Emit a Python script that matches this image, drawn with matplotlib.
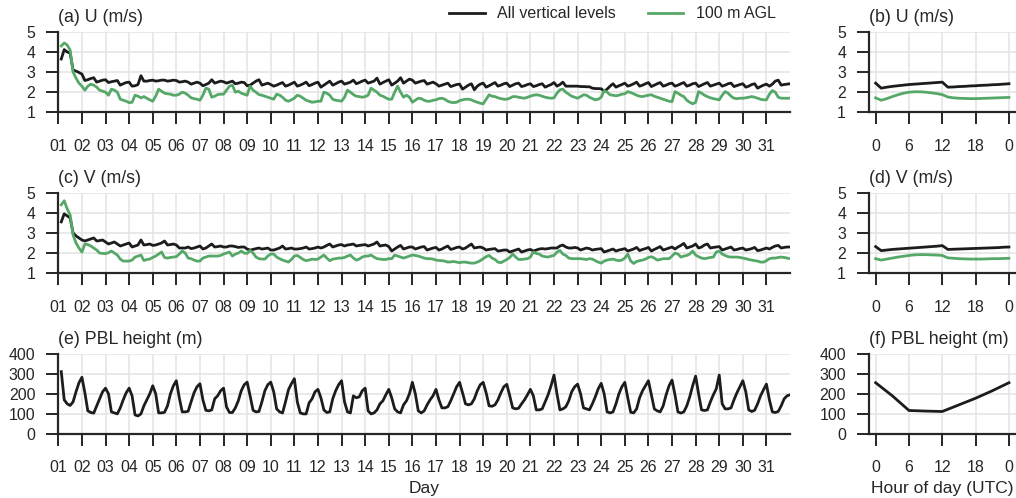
import numpy as np
import matplotlib.pyplot as plt

plt.rcParams['font.family'] = ['Liberation Sans', 'DejaVu Sans']

# 3-hourly samples, 01 03:00 .. 32 00:00
days = 1 + np.arange(1, 249) / 8.0
day_ticks = np.arange(1, 32)
day_labels = ['%02d' % d for d in day_ticks]

hours = np.arange(25)
hours3 = np.arange(0, 25, 3)
hour_ticks = [0, 6, 12, 18, 24]
hour_labels = ['0', '6', '12', '18', '0']

u_all = [
    3.65, 4.12, 4.0, 3.95, 3.1, 3.05, 2.98, 2.9,
    2.58, 2.62, 2.68, 2.72, 2.5, 2.55, 2.6, 2.62,
    2.48, 2.52, 2.55, 2.58, 2.35, 2.42, 2.48, 2.5,
    2.3, 2.32, 2.38, 2.82, 2.55, 2.55, 2.58, 2.6,
    2.55, 2.57, 2.6, 2.6, 2.55, 2.57, 2.6, 2.58,
    2.5, 2.52, 2.55, 2.5, 2.4, 2.45, 2.5, 2.45,
    2.32, 2.38, 2.45, 2.62, 2.45, 2.5, 2.55, 2.52,
    2.45, 2.5, 2.55, 2.42, 2.45, 2.5, 2.48, 2.32,
    2.35, 2.45, 2.55, 2.62, 2.35, 2.4, 2.45, 2.38,
    2.3, 2.35, 2.42, 2.48, 2.3, 2.35, 2.42, 2.5,
    2.3, 2.35, 2.42, 2.5, 2.32, 2.38, 2.45, 2.5,
    2.25, 2.35, 2.45, 2.55, 2.35, 2.42, 2.5, 2.55,
    2.4, 2.45, 2.5, 2.6, 2.42, 2.48, 2.55, 2.6,
    2.45, 2.5, 2.55, 2.7, 2.4, 2.48, 2.55, 2.62,
    2.35, 2.45, 2.55, 2.72, 2.45, 2.55, 2.65, 2.6,
    2.45, 2.5, 2.55, 2.58, 2.4, 2.45, 2.5, 2.42,
    2.3, 2.35, 2.4, 2.45, 2.28, 2.33, 2.38, 2.4,
    2.15, 2.25, 2.35, 2.42, 2.12, 2.3, 2.4, 2.45,
    2.25, 2.32, 2.4, 2.48, 2.3, 2.35, 2.42, 2.45,
    2.28, 2.35, 2.42, 2.45, 2.28, 2.32, 2.38, 2.42,
    2.28, 2.32, 2.38, 2.42, 2.25, 2.32, 2.38, 2.48,
    2.3, 2.38, 2.5, 2.3, 2.3, 2.3, 2.3, 2.3,
    2.28, 2.28, 2.27, 2.27, 2.2, 2.18, 2.18, 2.17,
    2.05, 2.15, 2.3, 2.42, 2.25, 2.32, 2.38, 2.45,
    2.3, 2.35, 2.42, 2.5, 2.3, 2.35, 2.42, 2.48,
    2.28, 2.35, 2.42, 2.48, 2.3, 2.35, 2.42, 2.45,
    2.3, 2.35, 2.42, 2.48, 2.3, 2.35, 2.42, 2.45,
    2.28, 2.35, 2.42, 2.48, 2.3, 2.35, 2.4, 2.45,
    2.3, 2.35, 2.42, 2.45, 2.28, 2.33, 2.38, 2.42,
    2.25, 2.3, 2.38, 2.42, 2.2, 2.28, 2.35, 2.4,
    2.3, 2.4, 2.55, 2.6, 2.35, 2.38, 2.4, 2.42,
]

u_100m = [
    4.3, 4.45, 4.35, 4.1, 3.0, 2.7, 2.45, 2.3,
    2.1, 2.3, 2.4, 2.35, 2.25, 2.1, 2.05, 2.0,
    1.85, 2.15, 2.1, 2.0, 1.65, 1.6, 1.55, 1.48,
    1.5, 1.85, 1.8, 1.72, 1.78, 1.7, 1.62, 1.55,
    1.8, 2.15, 2.05, 1.95, 1.92, 1.9, 1.85, 1.85,
    1.9, 2.0, 1.95, 1.85, 1.72, 1.68, 1.65, 1.6,
    1.85, 2.2, 2.15, 1.75, 1.8, 1.88, 1.9, 1.9,
    2.1, 2.3, 2.35, 2.0, 2.05, 1.95, 1.9, 1.85,
    2.3, 2.1, 2.0, 1.88, 1.85, 1.8, 1.75, 1.7,
    1.65, 1.9, 1.85, 1.75, 1.6, 1.55, 1.62, 1.7,
    1.85, 1.8, 1.7, 1.6, 1.55, 1.5, 1.52, 1.55,
    1.55, 2.0, 1.95, 1.85, 1.65, 1.6, 1.58, 1.55,
    1.75, 2.1, 2.0, 1.88, 1.8, 1.78, 1.75, 1.78,
    1.85, 2.2, 2.1, 2.0, 1.85, 1.8, 1.72, 1.65,
    1.65, 2.0, 2.3, 2.0, 1.75, 1.85, 1.75, 1.5,
    1.6, 1.7, 1.68, 1.6, 1.55, 1.55, 1.6, 1.62,
    1.68, 1.7, 1.65, 1.55, 1.5, 1.48, 1.5, 1.58,
    1.62, 1.65, 1.65, 1.62, 1.55, 1.5, 1.45, 1.42,
    1.65, 1.87, 1.8, 1.78, 1.72, 1.68, 1.65, 1.65,
    1.7, 1.78, 1.78, 1.75, 1.72, 1.7, 1.75, 1.8,
    1.85, 1.87, 1.85, 1.8, 1.75, 1.72, 1.7, 1.72,
    1.95, 2.12, 2.15, 2.0, 1.9, 1.8, 1.75, 1.7,
    1.78, 1.87, 1.85, 1.75, 1.68, 1.62, 1.65, 1.75,
    2.08, 2.0, 1.87, 1.85, 1.82, 1.85, 1.9, 1.92,
    2.03, 1.98, 1.92, 1.85, 1.8, 1.78, 1.82, 1.85,
    1.87, 1.8, 1.75, 1.7, 1.65, 1.6, 1.55, 1.53,
    2.03, 1.95, 1.85, 1.78, 1.6, 1.5, 1.42, 1.5,
    2.03, 1.95, 1.85, 1.78, 1.72, 1.68, 1.65, 1.62,
    1.85, 2.03, 1.95, 1.8, 1.7, 1.68, 1.7, 1.7,
    1.72, 1.75, 1.78, 1.75, 1.7, 1.65, 1.62, 1.62,
    1.9, 2.08, 2.0, 1.75, 1.7, 1.7, 1.7, 1.7,
]

v_all = [
    3.55, 3.95, 3.85, 3.75, 3.0, 2.85, 2.75, 2.65,
    2.6, 2.65, 2.7, 2.75, 2.6, 2.62, 2.65, 2.55,
    2.45, 2.5, 2.55, 2.45, 2.35, 2.4, 2.45, 2.5,
    2.3, 2.35, 2.4, 2.65, 2.4, 2.42, 2.45, 2.38,
    2.4, 2.45, 2.5, 2.6, 2.4, 2.42, 2.45, 2.4,
    2.25, 2.25, 2.25, 2.3, 2.22, 2.25, 2.3, 2.35,
    2.2, 2.25, 2.35, 2.45, 2.3, 2.32, 2.35, 2.3,
    2.3, 2.35, 2.35, 2.32, 2.28, 2.3, 2.3, 2.2,
    2.15, 2.18, 2.22, 2.25, 2.2, 2.22, 2.25, 2.15,
    2.15, 2.2, 2.25, 2.35, 2.2, 2.22, 2.25, 2.2,
    2.2, 2.22, 2.25, 2.3, 2.2, 2.22, 2.25, 2.3,
    2.25, 2.3, 2.38, 2.45, 2.3, 2.35, 2.4, 2.42,
    2.35, 2.4, 2.42, 2.45, 2.35, 2.38, 2.4, 2.42,
    2.35, 2.4, 2.45, 2.55, 2.35, 2.38, 2.4, 2.32,
    2.1, 2.2, 2.3, 2.38, 2.2, 2.25, 2.3, 2.3,
    2.2, 2.25, 2.3, 2.32, 2.15, 2.2, 2.25, 2.28,
    2.15, 2.2, 2.28, 2.35, 2.18, 2.22, 2.28, 2.3,
    2.2, 2.25, 2.35, 2.45, 2.25, 2.28, 2.3, 2.25,
    2.15, 2.18, 2.2, 2.22, 2.1, 2.12, 2.15, 2.15,
    2.05, 2.1, 2.15, 2.2, 2.05, 2.1, 2.15, 2.18,
    2.1, 2.15, 2.2, 2.22, 2.2, 2.22, 2.25, 2.25,
    2.25, 2.35, 2.4, 2.3, 2.25, 2.25, 2.28, 2.25,
    2.15, 2.2, 2.25, 2.22, 2.15, 2.18, 2.2, 2.22,
    2.05, 2.1, 2.15, 2.2, 2.1, 2.15, 2.18, 2.22,
    2.1, 2.15, 2.2, 2.28, 2.12, 2.18, 2.22, 2.28,
    2.1, 2.18, 2.25, 2.32, 2.15, 2.2, 2.25, 2.3,
    2.2, 2.3, 2.38, 2.48, 2.25, 2.3, 2.35, 2.45,
    2.25, 2.3, 2.4, 2.45, 2.25, 2.28, 2.3, 2.32,
    2.15, 2.2, 2.25, 2.3, 2.15, 2.18, 2.22, 2.25,
    2.15, 2.18, 2.22, 2.28, 2.12, 2.15, 2.2, 2.25,
    2.2, 2.28, 2.35, 2.38, 2.25, 2.28, 2.3, 2.3,
]

v_100m = [
    4.4, 4.6, 4.2, 3.9, 2.9, 2.5, 2.25, 2.05,
    2.45, 2.42, 2.35, 2.25, 2.15, 2.0, 1.98, 1.97,
    2.02, 2.1, 2.0, 1.9, 1.7, 1.6, 1.6, 1.6,
    1.65, 1.8, 1.85, 1.9, 1.63, 1.68, 1.7, 1.78,
    1.85, 1.95, 2.05, 1.78, 1.75, 1.78, 1.8, 1.82,
    1.95, 2.1, 2.0, 1.75, 1.72, 1.65, 1.6, 1.6,
    1.75, 1.8, 1.85, 1.85, 1.85, 1.85, 1.88, 1.95,
    2.0, 2.05, 1.85, 1.95, 2.0, 2.1, 2.0, 1.98,
    2.13, 2.0, 1.8, 1.72, 1.7, 1.7, 1.85, 1.95,
    1.95, 1.8, 1.72, 1.65, 1.6, 1.55, 1.68, 1.85,
    1.88, 1.78, 1.68, 1.62, 1.65, 1.7, 1.68, 1.7,
    1.8, 1.9, 1.75, 1.62, 1.7, 1.72, 1.75, 1.75,
    1.78, 1.85, 1.9, 1.75, 1.65, 1.7, 1.8, 1.85,
    1.85, 1.9, 1.8, 1.72, 1.7, 1.68, 1.68, 1.72,
    1.72, 1.9, 1.85, 1.8, 1.75, 1.8, 1.85, 1.9,
    1.88, 1.85, 1.8, 1.75, 1.72, 1.72, 1.7, 1.65,
    1.63, 1.62, 1.6, 1.55, 1.56, 1.58, 1.55, 1.52,
    1.55, 1.55, 1.52, 1.5, 1.5, 1.55, 1.62, 1.72,
    1.82, 1.88, 1.75, 1.68, 1.55, 1.52, 1.6, 1.68,
    1.78, 1.95, 1.8, 1.68, 1.68, 1.7, 1.72, 1.8,
    2.05, 1.98, 1.95, 1.85, 1.82, 1.8, 1.85, 1.88,
    2.05, 2.13, 1.95, 1.88, 1.75, 1.72, 1.72, 1.72,
    1.72, 1.7, 1.68, 1.72, 1.7, 1.62, 1.55, 1.5,
    1.6, 1.65, 1.68, 1.7, 1.65, 1.62, 1.65, 1.75,
    1.95, 1.6, 1.48, 1.58, 1.62, 1.65, 1.7, 1.78,
    1.82, 1.75, 1.65, 1.68, 1.72, 1.72, 1.72, 1.85,
    2.0, 1.95, 1.8, 1.85, 1.88, 1.95, 2.1, 1.9,
    1.82, 1.75, 1.72, 1.75, 1.78, 1.8, 2.05, 2.1,
    1.95, 1.88, 1.82, 1.8, 1.8, 1.8, 1.78, 1.75,
    1.72, 1.68, 1.65, 1.62, 1.6, 1.55, 1.55, 1.62,
    1.72, 1.75, 1.75, 1.78, 1.8, 1.78, 1.75, 1.72,
]

pbl = [
    310, 170, 150, 142, 160, 210, 255, 282,
    205, 115, 107, 104, 140, 175, 210, 228,
    200, 110, 105, 100, 130, 170, 205, 228,
    190, 95, 90, 100, 140, 170, 200, 240,
    200, 105, 105, 108, 140, 200, 240, 265,
    180, 110, 110, 113, 160, 205, 235, 250,
    170, 118, 115, 120, 175, 190, 215, 228,
    135, 107, 107, 130, 165, 215, 245, 258,
    190, 118, 110, 112, 160, 215, 245, 258,
    210, 125, 110, 105, 160, 220, 250, 275,
    160, 105, 100, 100, 155, 175, 210, 222,
    180, 120, 107, 110, 175, 215, 245, 265,
    160, 110, 105, 190, 180, 185, 215, 228,
    115, 100, 105, 120, 150, 165, 195, 222,
    180, 125, 110, 105, 145, 165, 200, 257,
    200, 115, 105, 115, 145, 170, 190, 222,
    170, 130, 130, 135, 165, 200, 235, 257,
    205, 150, 145, 150, 175, 215, 245, 257,
    205, 140, 138, 145, 170, 205, 235, 247,
    190, 130, 125, 128, 150, 170, 195, 222,
    190, 120, 120, 125, 160, 195, 240, 293,
    200, 120, 125, 135, 165, 210, 235, 248,
    200, 130, 125, 120, 150, 185, 225, 252,
    200, 110, 105, 110, 150, 200, 235, 257,
    180, 108, 105, 125, 180, 215, 240, 265,
    195, 125, 115, 110, 140, 195, 240, 268,
    195, 110, 104, 110, 140, 185, 240, 288,
    200, 120, 117, 120, 160, 195, 225, 293,
    150, 125, 125, 130, 170, 205, 235, 265,
    210, 120, 112, 118, 150, 190, 220, 248,
    170, 110, 107, 112, 140, 175, 190, 195,
]

# diurnal composites (hourly, 0..24 UTC)
u_all_diurnal = [2.45, 2.2, 2.25, 2.29, 2.32, 2.35, 2.38, 2.4, 2.42, 2.44, 2.46, 2.48, 2.5,
                 2.25, 2.26, 2.28, 2.29, 2.31, 2.32, 2.34, 2.35, 2.37, 2.38, 2.4, 2.42]
u_100m_diurnal = [1.72, 1.6, 1.68, 1.78, 1.87, 1.95, 2.0, 2.02, 2.02, 2.0, 1.97, 1.93, 1.88,
                  1.76, 1.72, 1.7, 1.69, 1.68, 1.68, 1.69, 1.7, 1.71, 1.72, 1.73, 1.74]
v_all_diurnal = [2.32, 2.12, 2.15, 2.18, 2.2, 2.22, 2.24, 2.26, 2.28, 2.3, 2.32, 2.34, 2.37,
                 2.18, 2.19, 2.2, 2.21, 2.22, 2.23, 2.24, 2.25, 2.26, 2.27, 2.29, 2.3]
v_100m_diurnal = [1.72, 1.65, 1.7, 1.75, 1.8, 1.84, 1.88, 1.91, 1.92, 1.92, 1.91, 1.9, 1.88,
                  1.76, 1.74, 1.72, 1.71, 1.7, 1.7, 1.7, 1.71, 1.72, 1.72, 1.73, 1.74]
pbl_diurnal = [255, 190, 117, 114, 112, 145, 178, 215, 255]

BLACK = '#1c1c1c'
GREEN = '#55a868'
TXT = '#262626'


def style(ax, title, yticks, xticks, xlabels, xlim):
    ax.set_xlim(*xlim)
    ax.set_ylim(yticks[0], yticks[-1])
    ax.set_yticks(yticks)
    ax.set_xticks(xticks)
    ax.set_xticklabels(xlabels)
    for s in ['top', 'right']:
        ax.spines[s].set_visible(False)
    for s in ['left', 'bottom']:
        ax.spines[s].set_linewidth(1.6)
        ax.spines[s].set_color(TXT)
    ax.tick_params(length=8.5, width=1.4, pad=8, labelsize=11.4,
                   color=TXT, labelcolor=TXT)
    ax.tick_params(axis='x', pad=10.5)
    ax.grid(color='#e5e5e5', lw=1.2)
    ax.set_axisbelow(True)
    ax.set_title(title, loc='left', fontsize=12.8, color=TXT, pad=7)


fig = plt.figure(figsize=(10.16, 4.98), dpi=100)
bottoms = [0.7745, 0.4515, 0.1285]
h = 0.1615
axl = [fig.add_axes([0.0574, b, 0.7202, h]) for b in bottoms]
axr = [fig.add_axes([0.8553, b, 0.1443, h]) for b in bottoms]

lw = 2.0
l1, = axl[0].plot(days, u_all, color=BLACK, lw=lw)
l2, = axl[0].plot(days, u_100m, color=GREEN, lw=lw)
axl[1].plot(days, v_all, color=BLACK, lw=lw)
axl[1].plot(days, v_100m, color=GREEN, lw=lw)
axl[2].plot(days, pbl, color=BLACK, lw=lw)

axr[0].plot(hours, u_all_diurnal, color=BLACK, lw=lw)
axr[0].plot(hours, u_100m_diurnal, color=GREEN, lw=lw)
axr[1].plot(hours, v_all_diurnal, color=BLACK, lw=lw)
axr[1].plot(hours, v_100m_diurnal, color=GREEN, lw=lw)
axr[2].plot(hours3, pbl_diurnal, color=BLACK, lw=lw)

titles_l = ['(a) U (m/s)', '(c) V (m/s)', '(e) PBL height (m)']
titles_r = ['(b) U (m/s)', '(d) V (m/s)', '(f) PBL height (m)']
yt = [[1, 2, 3, 4, 5], [1, 2, 3, 4, 5], [0, 100, 200, 300, 400]]
for i in range(3):
    style(axl[i], titles_l[i], yt[i], day_ticks, day_labels, (1, 32))
    style(axr[i], titles_r[i], yt[i], hour_ticks, hour_labels, (-1.2, 25.2))

axl[2].set_xlabel('Day', fontsize=12.5, color=TXT, labelpad=4)
axr[2].set_xlabel('Hour of day (UTC)', fontsize=12.5, color=TXT, labelpad=4)

fig.legend([l1, l2], ['All vertical levels', '100 m AGL'], loc='center',
           bbox_to_anchor=(0.603, 0.972), ncol=2, frameon=False,
           fontsize=11.5, handlelength=2.2, columnspacing=2.0, labelcolor=TXT)

fig.savefig('out.png', dpi=100)
